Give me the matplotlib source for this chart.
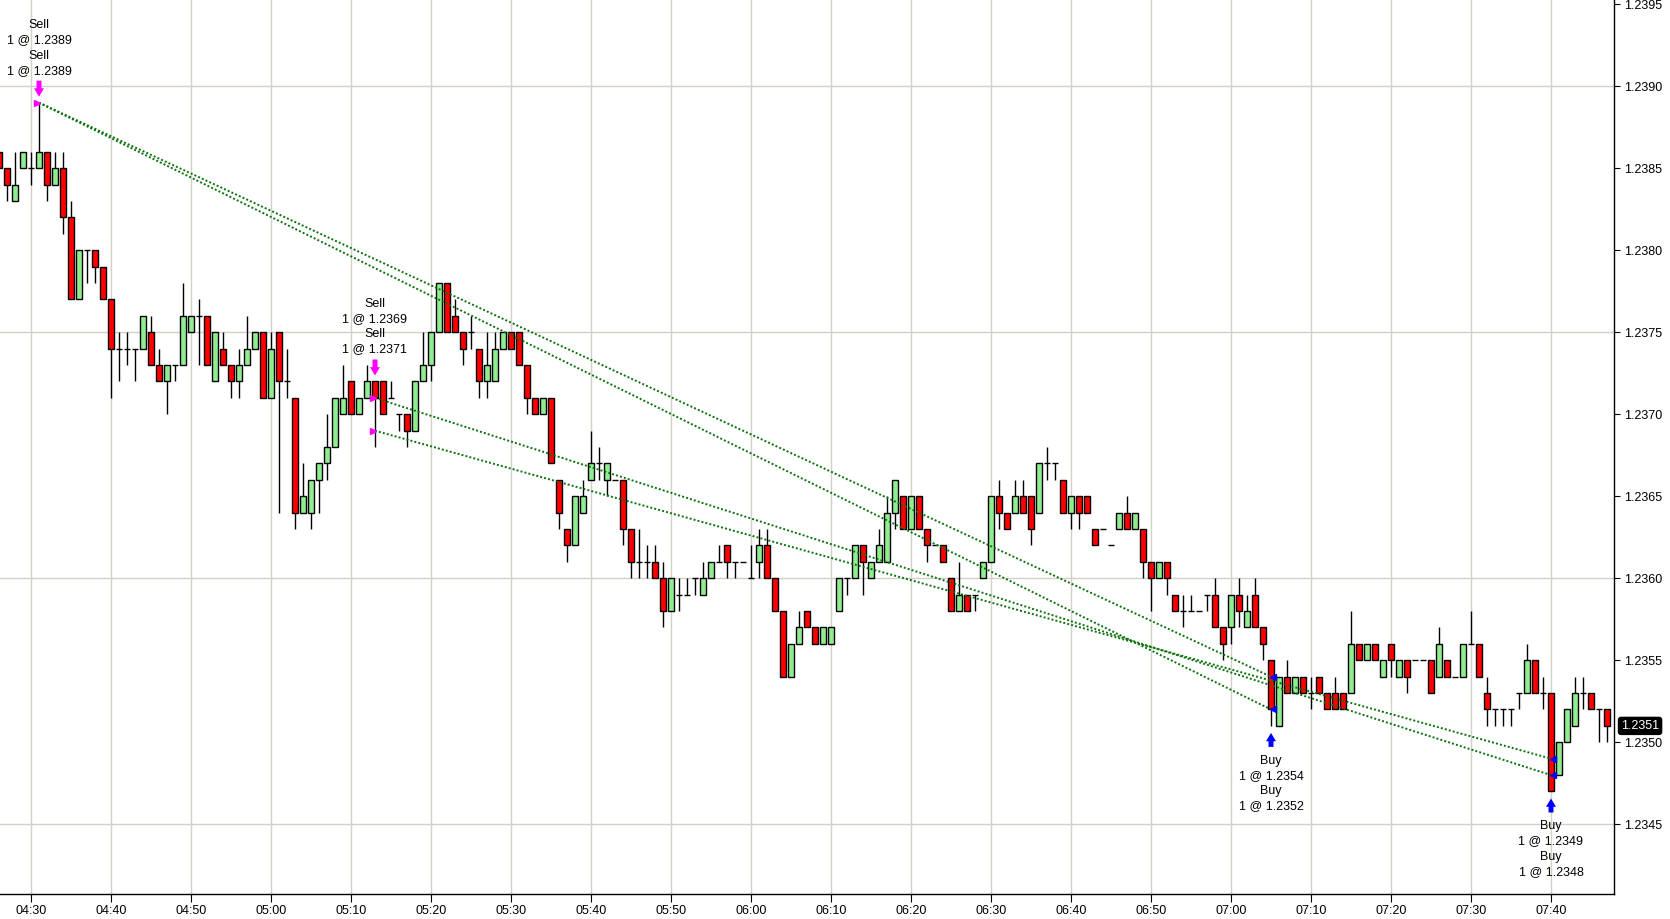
import matplotlib
matplotlib.use("Agg")
import matplotlib.pyplot as plt
import matplotlib.transforms as mtransforms
from matplotlib.ticker import MultipleLocator, FuncFormatter
import numpy as np

plt.rcParams["font.family"] = ["Liberation Sans", "DejaVu Sans"]

# one-minute bars starting 04:26, price = 1.23 + value / 10000
first_minute = 4 * 60 + 26

opens = [86, 85, 83, 85, 85, 85, 86, 84, 85, 82,
         77, 80, 80, 79, 77, 74, 74, 74, 74, 75,
         73, 72, 73, 73, 75, 76, 76, 72, 74, 73,
         72, 73, 74, 75, 71, 75, 72, 71, 64, 64,
         66, 67, 68, 70, 72, 70, 71, 72, 72, 71,
         70, 70, 69, 72, 73, 75, 78, 76, 75, 75,
         74, 72, 72, 74, 75, 75, 73, 71, 70, 71,
         66, 63, 62, 64, 66, 67, 66, 66, 66, 63,
         61, 61, 61, 60, 58, 59, 59, 60, 59, 60,
         61, 62, 61, 61, 60, 61, 62, 60, 58, 54,
         56, 58, 57, 56, 56, 58, 60, 60, 62, 60,
         61, 61, 64, 65, 63, 65, 63, 62, 62, 60,
         58, 59, 59, 60, 61, 65, 64, 64, 65, 65,
         64, 67, 67, 66, 64, 65, 65, 63, 63, 62,
         63, 64, 63, 63, 61, 60, 61, 59, 58, 58,
         58, 59, 59, 57, 57, 59, 57, 59, 57, 55,
         51, 54, 53, 54, 53, 54, 53, 53, 53, 53,
         56, 55, 56, 54, 56, 54, 55, 55, 55, 55,
         54, 55, 54, 54, 56, 56, 53, 52, 52, 52,
         53, 53, 55, 53, 53, 48, 50, 51, 53, 53,
         52, 52]
highs = [86, 85, 86, 86, 86, 89, 86, 86, 86, 83,
         80, 80, 80, 79, 77, 75, 75, 74, 76, 76,
         74, 73, 73, 78, 76, 77, 76, 75, 75, 73,
         74, 76, 75, 75, 75, 75, 74, 71, 67, 66,
         67, 70, 71, 73, 72, 71, 73, 72, 72, 72,
         70, 70, 72, 75, 75, 78, 78, 77, 75, 76,
         74, 75, 75, 75, 75, 75, 73, 71, 71, 71,
         66, 63, 65, 66, 69, 68, 67, 66, 66, 63,
         63, 62, 62, 61, 60, 60, 60, 60, 61, 61,
         62, 62, 61, 61, 62, 63, 63, 60, 58, 56,
         58, 58, 57, 57, 57, 60, 60, 62, 62, 61,
         63, 65, 66, 65, 65, 65, 63, 62, 62, 60,
         61, 59, 59, 61, 65, 66, 64, 66, 66, 65,
         67, 68, 67, 66, 65, 65, 65, 63, 63, 62,
         64, 65, 64, 63, 61, 61, 61, 59, 59, 59,
         58, 59, 60, 57, 59, 60, 59, 60, 57, 55,
         54, 55, 54, 54, 54, 54, 53, 54, 53, 58,
         56, 56, 56, 55, 56, 55, 55, 55, 55, 55,
         57, 55, 54, 56, 58, 56, 54, 52, 52, 52,
         53, 56, 55, 54, 53, 50, 52, 54, 54, 53,
         52, 52]
lows = [85, 83, 83, 85, 84, 85, 83, 84, 81, 77,
        77, 78, 78, 77, 71, 72, 73, 72, 74, 73,
        72, 70, 72, 73, 75, 73, 73, 72, 73, 71,
        71, 73, 74, 71, 71, 64, 71, 63, 64, 63,
        64, 66, 68, 70, 70, 70, 71, 68, 70, 71,
        69, 68, 69, 72, 72, 75, 75, 75, 73, 74,
        71, 71, 72, 74, 74, 73, 70, 70, 70, 67,
        63, 61, 62, 64, 66, 66, 65, 66, 62, 60,
        60, 60, 60, 57, 58, 58, 59, 59, 59, 60,
        61, 60, 60, 61, 60, 60, 60, 58, 54, 54,
        56, 57, 56, 56, 56, 58, 59, 60, 59, 60,
        61, 61, 63, 63, 63, 63, 61, 62, 61, 58,
        58, 58, 58, 60, 61, 63, 63, 64, 64, 62,
        64, 66, 66, 64, 63, 63, 64, 62, 63, 62,
        63, 63, 63, 60, 58, 60, 59, 58, 57, 58,
        58, 58, 57, 55, 56, 57, 57, 57, 55, 51,
        51, 53, 53, 53, 52, 53, 52, 52, 52, 53,
        55, 55, 55, 54, 54, 54, 53, 55, 55, 53,
        54, 54, 54, 54, 56, 54, 51, 51, 51, 51,
        52, 53, 53, 52, 47, 48, 50, 51, 52, 52,
        50, 50]
closes = [85, 84, 84, 86, 85, 86, 84, 85, 82, 77,
          80, 80, 79, 77, 74, 74, 74, 74, 76, 73,
          72, 73, 73, 76, 76, 76, 73, 75, 73, 72,
          73, 74, 75, 71, 74, 72, 72, 64, 65, 66,
          67, 68, 71, 71, 70, 71, 72, 71, 70, 71,
          70, 69, 72, 73, 75, 78, 75, 75, 74, 75,
          72, 73, 74, 75, 74, 73, 71, 70, 71, 67,
          64, 62, 65, 65, 67, 67, 67, 66, 63, 61,
          61, 61, 60, 58, 60, 59, 59, 60, 60, 61,
          61, 61, 61, 61, 60, 62, 60, 58, 54, 56,
          57, 57, 56, 57, 57, 60, 60, 62, 61, 61,
          62, 64, 66, 63, 65, 63, 62, 62, 61, 58,
          59, 58, 59, 61, 65, 64, 63, 65, 64, 63,
          67, 67, 67, 64, 65, 64, 64, 62, 63, 62,
          64, 63, 64, 61, 60, 61, 60, 58, 58, 58,
          58, 59, 57, 56, 59, 58, 58, 57, 56, 52,
          54, 53, 54, 53, 53, 53, 52, 52, 52, 56,
          55, 56, 55, 55, 55, 55, 54, 55, 55, 53,
          56, 54, 54, 56, 56, 54, 52, 52, 52, 52,
          53, 55, 53, 53, 47, 50, 52, 53, 53, 52,
          52, 51]

# executions (entry i is closed by exit i)
sell_times = ["04:31", "04:31", "05:13", "05:13"]
sell_prices = [1.2389, 1.2389, 1.2369, 1.2371]
buy_times = ["07:05", "07:05", "07:40", "07:40"]
buy_prices = [1.2354, 1.2352, 1.2349, 1.2348]


def to_minute(s):
    h, m = s.split(":")
    return int(h) * 60 + int(m)


def to_price(v):
    return 1.23 + np.asarray(v, dtype=float) / 10000


o = to_price(opens)
h = to_price(highs)
l = to_price(lows)
c = to_price(closes)
x = first_minute + np.arange(len(o))

GREEN = "#90ee90"
RED = "#ff0000"
GRID = "#d4d0c8"
TRADE = "#0a720a"

fig = plt.figure(figsize=(16.7, 9.19), dpi=100)
ax = fig.add_axes([0, 25 / 919, 1614 / 1670, 894 / 919])

ax.set_xlim(x[0] + 0.125, x[-1] + 0.875)
ax.set_ylim(1.234075, 1.239526)

# grid
ax.xaxis.set_major_locator(MultipleLocator(10))
ax.xaxis.set_major_formatter(FuncFormatter(lambda v, p: "%02d:%02d" % (int(v) // 60, int(v) % 60)))
ax.grid(axis="x", color=GRID, lw=1, zorder=0)
for gy in np.arange(1.2345, 1.2396, 0.0015):
    ax.axhline(gy, color=GRID, lw=1, zorder=0)

# candles
w = 0.74
ax.vlines(x, l, h, color="black", lw=1, zorder=2)
up = c > o
dn = c < o
flat = c == o
ax.bar(x[up], (c - o)[up], bottom=o[up], width=w, color=GREEN, edgecolor="black", lw=1, zorder=3)
ax.bar(x[dn], (o - c)[dn], bottom=c[dn], width=w, color=RED, edgecolor="black", lw=1, zorder=3)
ax.hlines(c[flat], x[flat] - w / 2, x[flat] + w / 2, color="black", lw=1, zorder=3)

# trade lines
for st, sp, bt, bp in zip(sell_times, sell_prices, buy_times, buy_prices):
    ax.plot([to_minute(st), to_minute(bt)], [sp, bp], color=TRADE, lw=1.4,
            linestyle=(0, (1, 1.1)), zorder=5)

for st, sp in set(zip(sell_times, sell_prices)):
    ax.plot(to_minute(st) - 0.3, sp, marker=">", color="#ff00ff", ms=5, zorder=6)
for bt, bp in set(zip(buy_times, buy_prices)):
    ax.plot(to_minute(bt) + 0.3, bp, marker="<", color="#0000ff", ms=5, zorder=6)


def px(dy):
    return mtransforms.offset_copy(ax.transData, fig=fig, x=0, y=dy, units="dots")


arrow_style = "simple,head_length=0.5,head_width=0.6,tail_width=0.3"


def annotate_fills(times, prices, side, color):
    groups = {}
    for t, p in zip(times, prices):
        groups.setdefault(t, []).append(p)
    for t, ps in groups.items():
        m = to_minute(t)
        i = m - first_minute
        label = "\n".join("%s\n1 @ %.4f" % (side, p) for p in ps)
        if side == "Sell":
            ref = h[i]
            tip, tail, off, va = 6, 22, 26, "bottom"
        else:
            ref = l[i]
            tip, tail, off, va = -7, -21, -29, "top"
        ax.annotate("", xy=(m, ref), xycoords=px(tip), xytext=(m, ref), textcoords=px(tail),
                    arrowprops=dict(arrowstyle=arrow_style, fc=color, ec=color, lw=0,
                                    shrinkA=0, shrinkB=0, mutation_scale=12),
                    zorder=7, annotation_clip=False)
        ax.annotate(label, xy=(m, ref), xytext=(0, off), textcoords="offset pixels",
                    ha="center", va=va, fontsize=9, linespacing=1.34, zorder=7,
                    annotation_clip=False)


annotate_fills(sell_times, sell_prices, "Sell", "#ff00ff")
annotate_fills(buy_times, buy_prices, "Buy", "#0000ff")

# axes styling
ax.yaxis.tick_right()
ax.yaxis.set_major_locator(MultipleLocator(0.0005))
ax.yaxis.set_major_formatter(FuncFormatter(lambda v, p: "%.4f" % v))
ax.tick_params(axis="y", direction="out", length=4, pad=3, labelsize=9, colors="black")
ax.tick_params(axis="x", direction="out", length=6, pad=2, labelsize=9, colors="black")
for side in ["left", "top"]:
    ax.spines[side].set_visible(False)
for side in ["right", "bottom"]:
    ax.spines[side].set_color("black")
    ax.spines[side].set_linewidth(1)

# last price tag
ax.annotate("%.4f" % c[-1], xy=(1, c[-1]), xycoords=ax.get_yaxis_transform(),
            xytext=(7, 0), textcoords="offset pixels", ha="left", va="center",
            fontsize=9, color="white", zorder=8, annotation_clip=False,
            bbox=dict(boxstyle="round,pad=0.2", fc="black", ec="black"))

fig.savefig("out.png", dpi=100)
